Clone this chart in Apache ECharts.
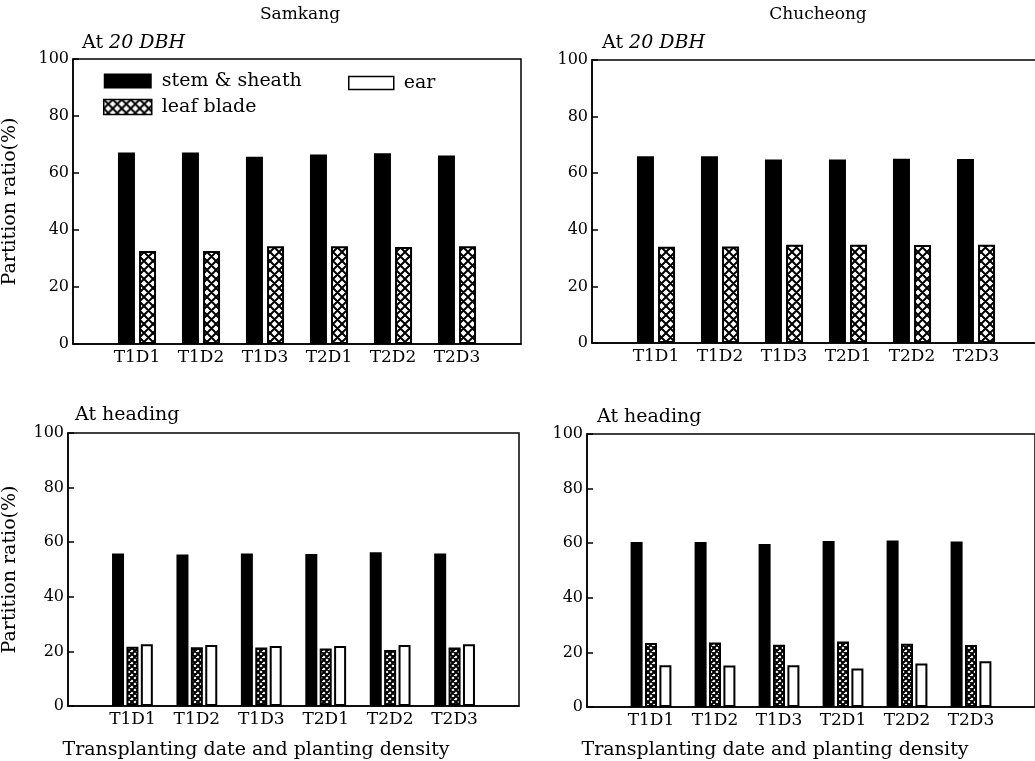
<!DOCTYPE html>
<html>
<head>
<meta charset="utf-8">
<script src="https://cdn.jsdelivr.net/npm/echarts@6/dist/echarts.min.js"></script>
<style>html,body{margin:0;padding:0;background:#fff}#c{width:1035px;height:761px}</style>
</head>
<body>
<div id="c"></div>
<script>
// ---- data ----
const categories = ['T1D1', 'T1D2', 'T1D3', 'T2D1', 'T2D2', 'T2D3'];
const seriesNames = ['stem & sheath', 'leaf blade', 'ear'];
const yMin = 0, yMax = 100, yStep = 20;

const samkang20Stem = [67.2, 67.2, 65.7, 66.5, 66.9, 66.1];
const samkang20Leaf = [32.6, 32.6, 34.3, 34.3, 34.0, 34.3];
const chucheong20Stem = [66.0, 66.0, 64.8, 64.8, 65.1, 65.0];
const chucheong20Leaf = [34.0, 34.1, 34.7, 34.7, 34.6, 34.7];
const samkangHdStem = [55.9, 55.5, 55.9, 55.7, 56.3, 55.9];
const samkangHdLeaf = [21.7, 21.5, 21.4, 21.1, 20.5, 21.4];
const samkangHdEar = [22.6, 22.3, 22.0, 22.0, 22.3, 22.6];
const chucheongHdStem = [60.4, 60.4, 59.7, 60.8, 61.0, 60.6];
const chucheongHdLeaf = [23.4, 23.6, 22.8, 24.0, 23.2, 22.7];
const chucheongHdEar = [15.3, 15.2, 15.3, 14.1, 15.9, 16.8];

// ---- styling helpers ----
const FONT = 'DejaVu Serif';
function hatch(size, lw) {
  const c = document.createElement('canvas');
  c.width = size; c.height = size;
  const g = c.getContext('2d');
  g.fillStyle = '#fff'; g.fillRect(0, 0, size, size);
  g.strokeStyle = '#000'; g.lineWidth = lw;
  g.beginPath();
  for (let k = -1; k <= 1; k++) {
    g.moveTo(k * size, 0); g.lineTo(k * size + size, size);
    g.moveTo(k * size + size, 0); g.lineTo(k * size, size);
  }
  g.stroke();
  return c;
}
const hatchTop = { image: hatch(9, 2), repeat: 'repeat' };
const hatchBot = { image: hatch(6, 2), repeat: 'repeat' };

const axisCats = [''].concat(categories, ['']);
const pad = arr => [null].concat(arr, [null]);

const grids = [
  { left: 73, top: 59, width: 448, height: 285 },
  { left: 592, top: 60, width: 448, height: 283 },
  { left: 68, top: 433, width: 451, height: 273 },
  { left: 587, top: 434, width: 448, height: 273 }
].map(g => Object.assign(g, {
  show: true, borderColor: '#000', borderWidth: 1.5,
  containLabel: false, outerBoundsMode: 'none'
}));

const xAxes = grids.map((g, i) => ({
  type: 'category', gridIndex: i, data: axisCats, boundaryGap: false,
  axisLine: { lineStyle: { color: '#000', width: 1.5 } },
  axisTick: { show: false },
  axisLabel: { interval: 0, color: '#000', fontFamily: FONT, fontSize: 17, margin: 5 },
  splitLine: { show: false }
}));

const yAxes = grids.map((g, i) => ({
  type: 'value', gridIndex: i, min: yMin, max: yMax, interval: yStep,
  name: (i % 2 === 0) ? 'Partition ratio(%)' : '',
  nameLocation: 'middle', nameRotate: 90,
  nameGap: i === 0 ? 53 : 48,
  nameTextStyle: { color: '#000', fontFamily: FONT, fontSize: 19 },
  axisLine: { show: true, lineStyle: { color: '#000', width: 1.5 } },
  axisTick: { show: true, inside: true, length: 6, lineStyle: { color: '#000', width: 1.5 } },
  axisLabel: { color: '#000', fontFamily: FONT, fontSize: 16, margin: 4 },
  splitLine: { show: false }
}));

function stem(i, data, w) {
  return { name: seriesNames[0], type: 'bar', xAxisIndex: i, yAxisIndex: i, data: pad(data),
    barWidth: w, barGap: w > 14 ? '24%' : '20%', itemStyle: { color: '#000' }, silent: true };
}
function leaf(i, data, w, pat) {
  return { name: seriesNames[1], type: 'bar', xAxisIndex: i, yAxisIndex: i, data: pad(data),
    barWidth: w, barGap: w > 14 ? '24%' : '20%',
    itemStyle: { color: pat, borderColor: '#000', borderWidth: 2 }, silent: true };
}
function ear(i, data, w) {
  return { name: seriesNames[2], type: 'bar', xAxisIndex: i, yAxisIndex: i, data: pad(data),
    barWidth: w, barGap: '20%',
    itemStyle: { color: '#fff', borderColor: '#000', borderWidth: 2 }, silent: true };
}

const series = [
  stem(0, samkang20Stem, 17), leaf(0, samkang20Leaf, 17, hatchTop),
  stem(1, chucheong20Stem, 17), leaf(1, chucheong20Leaf, 17, hatchTop),
  stem(2, samkangHdStem, 12), leaf(2, samkangHdLeaf, 12, hatchBot), ear(2, samkangHdEar, 12),
  stem(3, chucheongHdStem, 12), leaf(3, chucheongHdLeaf, 12, hatchBot), ear(3, chucheongHdEar, 12)
];

const legendText = { color: '#000', fontFamily: FONT, fontSize: 19, lineHeight: 20, padding: [0, 0, 0, 5] };

function txt(t, x, y, align, size, rich) {
  const s = { text: t, fill: '#000', font: size + 'px "' + FONT + '"',
    align: align, verticalAlign: 'middle', textAlign: align, textVerticalAlign: 'middle' };
  if (rich) s.rich = rich;
  return { type: 'text', x: x, y: y, style: s, silent: true };
}
const dbhRich = {
  n: { fontFamily: FONT, fontSize: 19, fill: '#000', color: '#000' },
  i: { fontFamily: FONT, fontSize: 19, fontStyle: 'italic', fill: '#000', color: '#000' }
};

const option = {
  backgroundColor: '#fff',
  animation: false,
  grid: grids,
  xAxis: xAxes,
  yAxis: yAxes,
  series: series,
  legend: [
    { left: 103, top: 71, padding: 0, orient: 'vertical', itemWidth: 48, itemHeight: 15, itemGap: 6,
      selectedMode: false, textStyle: legendText,
      data: [
        { name: seriesNames[0], icon: 'rect', itemStyle: { color: '#000' } },
        { name: seriesNames[1], icon: 'rect', itemStyle: { color: hatchTop, borderColor: '#000', borderWidth: 1.5 } }
      ] },
    { left: 348, top: 73, padding: 0, orient: 'vertical', itemWidth: 45, itemHeight: 13,
      selectedMode: false, textStyle: legendText,
      data: [ { name: seriesNames[2], icon: 'rect', itemStyle: { color: '#fff', borderColor: '#000', borderWidth: 1.5 } } ] }
  ],
  graphic: [
    txt('Samkang', 300, 15, 'center', 17),
    txt('Chucheong', 818, 15, 'center', 17),
    txt('{n|At }{i|20 DBH}', 82, 43, 'left', 19, dbhRich),
    txt('{n|At }{i|20 DBH}', 602, 43, 'left', 19, dbhRich),
    txt('At heading', 75, 415, 'left', 19),
    txt('At heading', 597, 417, 'left', 19),
    txt('Transplanting date and planting density', 256, 750, 'center', 19),
    txt('Transplanting date and planting density', 775, 750, 'center', 19)
  ]
};

const chart = echarts.init(document.getElementById('c'), null, { renderer: 'canvas' });
chart.setOption(option);
</script>
</body>
</html>
